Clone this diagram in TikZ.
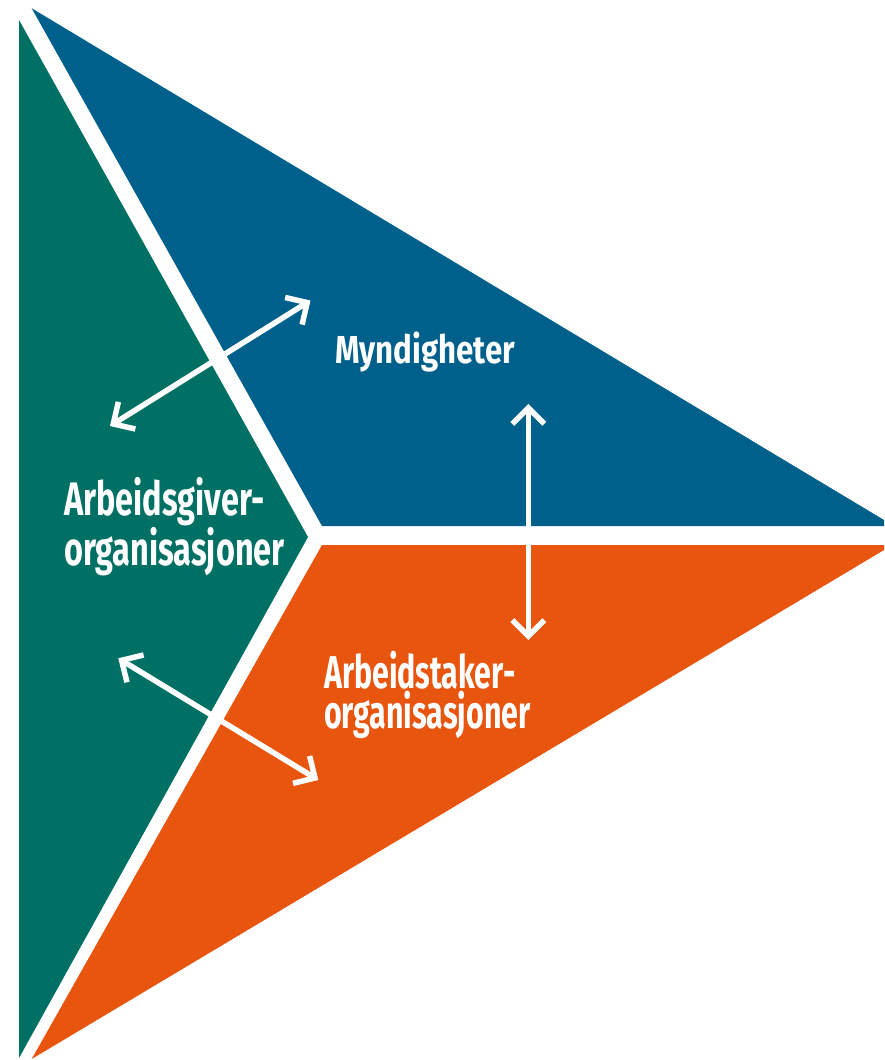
\documentclass[tikz,border=0pt]{standalone}
\usepackage{fontspec}
\setmainfont{Fira Sans}[FakeStretch=0.8]
\newfontfamily\agfont{Fira Sans}[FakeStretch=0.69]
\newfontfamily\atfont{Fira Sans}[FakeStretch=0.66]
\usetikzlibrary{arrows.meta}
\definecolor{tealg}{RGB}{0,112,100}
\definecolor{blueg}{RGB}{0,96,140}
\definecolor{orangeg}{RGB}{232,85,15}
\begin{document}
\begin{tikzpicture}[x=1pt,y=-1pt,
  lbltext/.style={text=white, inner sep=0pt, anchor=base west, align=left},
  dblarrow/.style={draw=white, line width=5.5pt,
    {Straight Barb[length=16pt,width=32pt]}-{Straight Barb[length=16pt,width=32pt]}}]
\useasboundingbox (0,0) rectangle (884,1060);
% regions
\fill[tealg] (19,20) -- (308,537) -- (19,1058) -- cycle;
\fill[blueg] (31.7,8.3) -- (884,520) -- (884,526) -- (322,526) -- cycle;
\fill[orangeg] (322,545) -- (884,545) -- (884,550) -- (31.7,1059) -- cycle;
% labels (anchor = baseline of last line)
\node[lbltext, font=\bfseries\fontsize{39}{39}\selectfont] (myn) at (335,363) {Myndigheter};
\node[lbltext, font=\agfont\bfseries\fontsize{47}{41}\selectfont] (ag) at (64,565) {Arbeidsgiver-\\organisasjoner};
\node[lbltext, font=\atfont\bfseries\fontsize{46}{40}\selectfont] (at) at (324,728) {Arbeidstaker-\\organisasjoner};
% arrow ends
\coordinate (a1s) at (110,426);
\coordinate (a1e) at (310.5,300.5);
\coordinate (a2s) at (528.3,404);
\coordinate (a2e) at (528.3,640);
\coordinate (a3s) at (118.3,658.3);
\coordinate (a3e) at (318.3,780);
\draw[dblarrow] (a1s) -- (a1e);
\draw[dblarrow] (a2s) -- (a2e);
\draw[dblarrow] (a3s) -- (a3e);
\end{tikzpicture}
\end{document}
